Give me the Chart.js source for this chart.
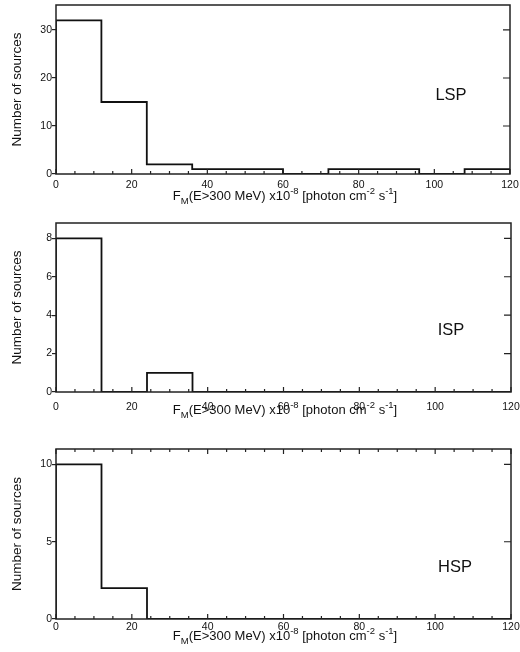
<!DOCTYPE html>
<html>
<head>
<meta charset="utf-8">
<script src="https://cdn.jsdelivr.net/npm/chart.js@4.4.1/dist/chart.umd.min.js"></script>
<style>
  html, body { margin: 0; padding: 0; background: #fff; }
  #wrap { position: relative; width: 520px; height: 652px; overflow: hidden; }
  canvas { position: absolute; left: 0; }
</style>
</head>
<body>
<div id="wrap">
  <canvas id="c1" style="top:0px"></canvas>
  <canvas id="c2" style="top:210px"></canvas>
  <canvas id="c3" style="top:425px"></canvas>
</div>
<script>
// bin edges of the flux histogram (x10^-8 photon cm^-2 s^-1)
const binEdges = [0, 12, 24, 36, 48, 60, 72, 84, 96, 108, 120];
// counts per bin
const lspCounts = [32, 15, 2, 1, 1, 0, 1, 1, 0, 1];
const ispCounts = [8, 0, 1, 0, 0, 0, 0, 0, 0, 0];
const hspCounts = [10, 2, 0, 0, 0, 0, 0, 0, 0, 0];
const xTicks = [0, 20, 40, 60, 80, 100, 120];
const classLabels = ['LSP', 'ISP', 'HSP'];

const FONT = '"Liberation Sans", Arial, Helvetica, sans-serif';

// outline points (stepped 'before'): one point at each bin's left edge
function histPoints(counts) {
  const pts = [{ x: binEdges[0], y: 0 }];
  counts.forEach((c, i) => pts.push({ x: binEdges[i], y: c }));
  pts.push({ x: binEdges[binEdges.length - 1], y: 0 });
  return pts;
}

// frame, inside ticks, label and x title
const frame = {
  id: 'frame',
  afterDraw(chart, args, o) {
    const { ctx, chartArea: a, scales } = chart;
    const xs = scales.x, ys = scales.y;
    ctx.save();
    ctx.strokeStyle = '#222';
    ctx.lineWidth = 1.5;
    ctx.strokeRect(a.left, a.top, a.right - a.left, a.bottom - a.top);
    ctx.lineWidth = 1.2;
    ctx.beginPath();
    for (let v = 0; v <= 120; v += 5) {
      const px = xs.getPixelForValue(v);
      const len = v % 20 === 0 ? 5 : 3;
      ctx.moveTo(px, a.bottom); ctx.lineTo(px, a.bottom - len);
      if (o.topTicks) { ctx.moveTo(px, a.top); ctx.lineTo(px, a.top + len); }
    }
    ys.ticks.forEach(t => {
      if (t.value === 0) return;
      const py = ys.getPixelForValue(t.value);
      ctx.moveTo(a.right, py); ctx.lineTo(a.right - 7, py);
    });
    ctx.stroke();

    // class label
    ctx.fillStyle = '#111';
    ctx.font = '16.5px ' + FONT;
    ctx.textAlign = 'center';
    ctx.textBaseline = 'middle';
    ctx.fillText(o.label, o.labelX, o.labelY);

    // x title with sub/superscripts
    const parts = [
      ['F', 0, 13], ['M', 4, 9.5], ['(E>300 MeV) x10', 0, 13], ['-8', -6, 9.5],
      [' [photon cm', 0, 13], ['-2', -6, 9.5], [' s', 0, 13], ['-1', -6, 9.5], [']', 0, 13]
    ];
    let w = 0;
    parts.forEach(p => { ctx.font = p[2] + 'px ' + FONT; w += ctx.measureText(p[0]).width; });
    let x = 285 - w / 2;
    const base = a.bottom + o.titleOffset;
    ctx.textAlign = 'left';
    ctx.textBaseline = 'alphabetic';
    parts.forEach(p => {
      ctx.font = p[2] + 'px ' + FONT;
      ctx.fillText(p[0], x, base + p[1]);
      x += ctx.measureText(p[0]).width;
    });
    ctx.restore();
  }
};

function makePanel(id, counts, cfg) {
  const el = document.getElementById(id);
  el.width = 520; el.height = cfg.height;
  el.style.width = '520px'; el.style.height = cfg.height + 'px';
  return new Chart(el, {
    type: 'line',
    data: {
      datasets: [{
        data: histPoints(counts),
        stepped: 'before',
        borderColor: '#111',
        borderWidth: 1.8,
        pointRadius: 0,
        fill: false
      }]
    },
    options: {
      responsive: false,
      animation: false,
      layout: { padding: { top: cfg.top, right: 520 - cfg.right, left: 0, bottom: 0 } },
      plugins: {
        legend: { display: false },
        tooltip: { enabled: false },
        frame: cfg.frame
      },
      scales: {
        x: {
          type: 'linear', min: 0, max: 120,
          afterBuildTicks: s => { s.ticks = xTicks.map(v => ({ value: v })); },
          afterFit: s => { s.height = cfg.height - cfg.bottom; s.paddingLeft = 0; s.paddingRight = 0; },
          grid: { display: false, drawTicks: false },
          border: { display: false },
          ticks: { color: '#111', font: { family: FONT, size: 10.5 }, padding: cfg.xPad, maxRotation: 0, autoSkip: false }
        },
        y: {
          min: 0, max: cfg.yMax,
          afterBuildTicks: s => { s.ticks = cfg.yTicks.map(v => ({ value: v })); },
          afterFit: s => { s.width = 56; s.paddingTop = 0; s.paddingBottom = 0; },
          grid: { display: true, drawOnChartArea: false, drawTicks: true, tickLength: 4, color: '#222', lineWidth: 1.2 },
          border: { display: false },
          ticks: { color: '#111', font: { family: FONT, size: 10.5 }, padding: 0 },
          title: { display: true, text: 'Number of sources', color: '#111', font: { family: FONT, size: 13.5 }, padding: { top: 9, bottom: 0 } }
        }
      }
    },
    plugins: [frame]
  });
}

makePanel('c1', lspCounts, {
  height: 210, top: 5, right: 510, bottom: 174, yMax: 35.2, yTicks: [0, 10, 20, 30], xPad: 5,
  frame: { label: classLabels[0], labelX: 451, labelY: 95, titleOffset: 26, topTicks: false }
});
makePanel('c2', ispCounts, {
  height: 215, top: 13, right: 511, bottom: 182, yMax: 8.8, yTicks: [0, 2, 4, 6, 8], xPad: 9,
  frame: { label: classLabels[1], labelX: 451, labelY: 120, titleOffset: 22, topTicks: false }
});
makePanel('c3', hspCounts, {
  height: 227, top: 24, right: 511, bottom: 194, yMax: 11, yTicks: [0, 5, 10], xPad: 2,
  frame: { label: classLabels[2], labelX: 455, labelY: 142, titleOffset: 21, topTicks: true }
});
</script>
</body>
</html>
